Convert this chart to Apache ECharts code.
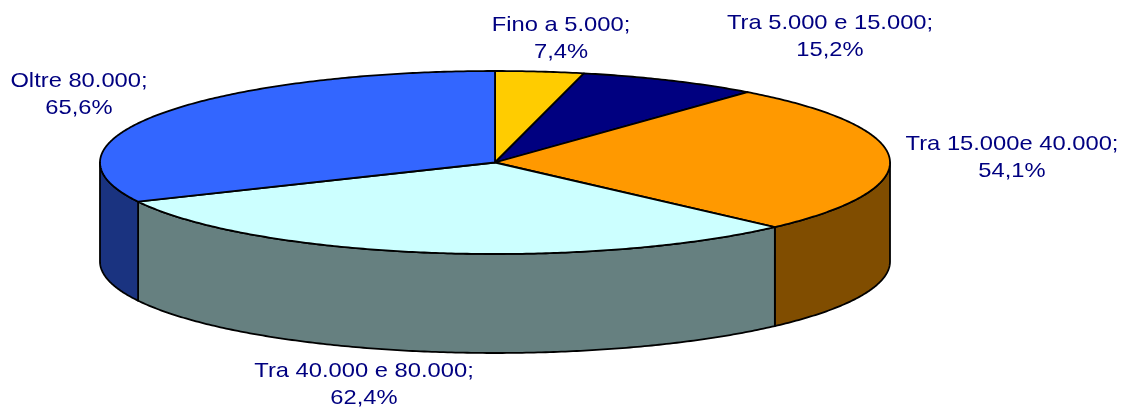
<!DOCTYPE html>
<html>
<head>
<meta charset="utf-8" />
<style>
  html, body { margin: 0; padding: 0; background: #fff; }
  #chart { width: 1123px; height: 407px; }
</style>
<script src="https://cdn.jsdelivr.net/npm/echarts@6/dist/echarts.min.js"></script>
</head>
<body>
<div id="chart"></div>
<script>
const categories = ["Fino a 5.000", "Tra 5.000 e 15.000", "Tra 15.000e 40.000", "Tra 40.000 e 80.000", "Oltre 80.000"];
const values = [7.4, 15.2, 54.1, 62.4, 65.6];

const topColors = ["#FFCC00", "#000080", "#FF9900", "#CCFFFF", "#3366FF"];
const sideColors = ["#806600", "#000040", "#804D00", "#668080", "#1A3380"];
const labelCenters = [[561, 39], [830, 37], [1012, 158], [364, 385], [79, 95]];

// pie geometry in px
const cx = 495, cy = 162.5, rx = 395, ry = 91.5, depth = 99;
const total = values.reduce((acc, v) => acc + v, 0);

// angle runs clockwise from 12 o'clock
function rim(angle, dy) {
  return [cx + rx * Math.sin(angle), cy - ry * Math.cos(angle) + dy];
}

function arc(from, to, dy) {
  const pts = [];
  const steps = Math.max(2, Math.ceil(Math.abs(to - from) / 0.01));
  for (let i = 0; i <= steps; i++) {
    pts.push(rim(from + ((to - from) * i) / steps, dy));
  }
  return pts;
}

const lineStyle = { stroke: "#000", lineWidth: 1.8, lineJoin: "round" };

function renderItem(params, api) {
  const i = params.dataIndex;
  const before = values.slice(0, i).reduce((acc, v) => acc + v, 0);
  const start = (before / total) * Math.PI * 2;
  const end = ((before + api.value(1)) / total) * Math.PI * 2;
  const children = [];

  // only the front half of the wall is visible
  const sideFrom = Math.max(start, Math.PI / 2);
  const sideTo = Math.min(end, (Math.PI * 3) / 2);
  if (sideFrom < sideTo) {
    children.push({
      type: "polygon",
      z2: 1,
      shape: { points: arc(sideFrom, sideTo, 0).concat(arc(sideTo, sideFrom, depth)) },
      style: { fill: sideColors[i], ...lineStyle },
    });
  }

  children.push({
    type: "polygon",
    z2: 2,
    shape: { points: [[cx, cy]].concat(arc(start, end, 0)) },
    style: { fill: topColors[i], ...lineStyle },
  });

  // the original labels are stretched sideways
  children.push({
    type: "text",
    z2: 3,
    x: labelCenters[i][0],
    y: labelCenters[i][1],
    scaleX: 1.13,
    style: {
      x: 0,
      y: 0,
      text: categories[i] + ";\n" + String(api.value(1)).replace(".", ",") + "%",
      fill: "#000080",
      font: '21px "Liberation Sans", Arial, sans-serif',
      lineHeight: 27,
      align: "center",
      verticalAlign: "middle",
    },
  });

  return { type: "group", children };
}

const chart = echarts.init(document.getElementById("chart"), null, { renderer: "canvas" });
chart.setOption({
  animation: false,
  backgroundColor: "#fff",
  series: [
    {
      type: "custom",
      coordinateSystem: "none",
      renderItem,
      data: values.map((v, i) => [i, v]),
    },
  ],
});
</script>
</body>
</html>
